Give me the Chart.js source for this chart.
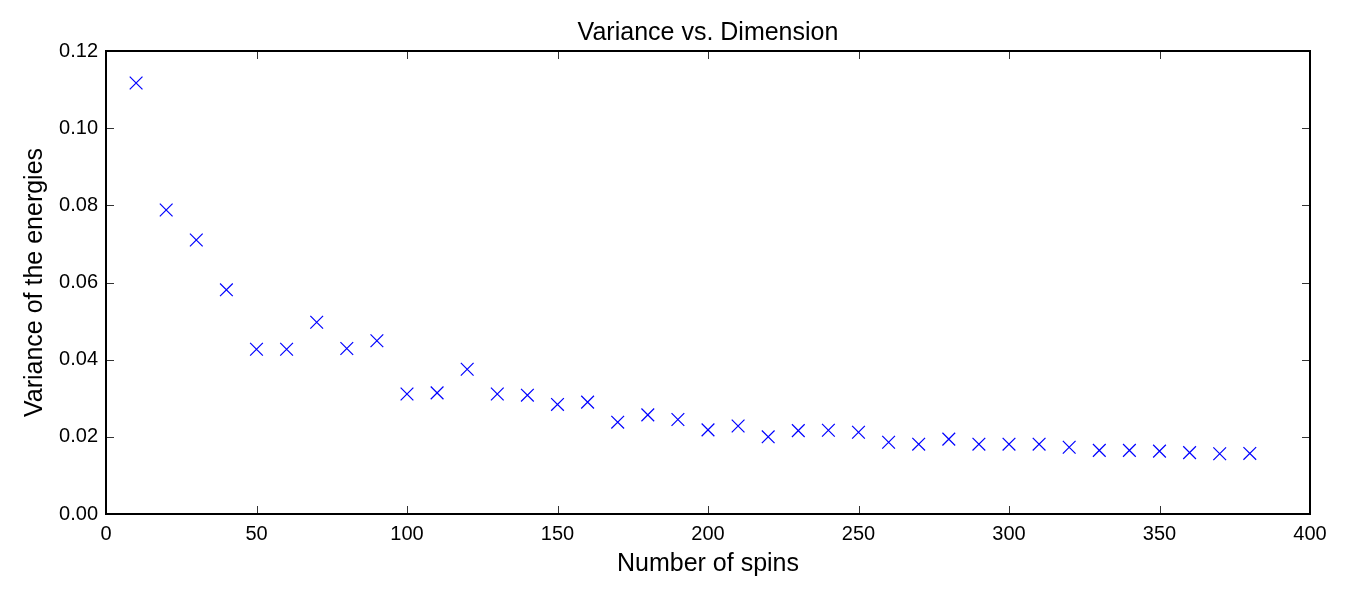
<!DOCTYPE html>
<html lang="en">
<head>
    <meta charset="UTF-8">
    <title>Variance vs. Dimension</title>
    <script src="https://cdn.jsdelivr.net/npm/chart.js@4.4.3/dist/chart.umd.min.js"></script>
    <style>
        body { margin: 0; background: #fff; }
        #wrap { width: 1350px; height: 600px; }
    </style>
</head>
<body>
    <div id="wrap"><canvas id="varianceChart"></canvas></div>
    <script>
        // Datos
        const spins = [10, 20, 30, 40, 50, 60, 70, 80, 90, 100, 110, 120, 130, 140, 150, 160, 170, 180, 190,
                       200, 210, 220, 230, 240, 250, 260, 270, 280, 290, 300, 310, 320, 330, 340, 350, 360, 370, 380];
        const variance = [0.1117, 0.0788, 0.0710, 0.0581, 0.0427, 0.0427, 0.0497, 0.0429, 0.0449, 0.0311,
                          0.0314, 0.0375, 0.0311, 0.0308, 0.0284, 0.0290, 0.0238, 0.0257, 0.0245,
                          0.0218, 0.0228, 0.0200, 0.0216, 0.0217, 0.0212, 0.0186, 0.0181, 0.0194, 0.0181,
                          0.0181, 0.0181, 0.0173, 0.0165, 0.0165, 0.0163, 0.0159, 0.0156, 0.0157];
        const xTicks = [0, 50, 100, 150, 200, 250, 300, 350, 400];
        const yTicks = [0.00, 0.02, 0.04, 0.06, 0.08, 0.10, 0.12];

        const FONT = "'Liberation Sans', Arial, Helvetica, sans-serif";

        // Marco y marcas hacia dentro, estilo matplotlib clásico
        const boxTicks = {
            id: 'boxTicks',
            afterDraw(chart) {
                const { ctx, chartArea: a, scales: { x, y } } = chart;
                const len = 8;
                ctx.save();
                ctx.strokeStyle = '#333';
                ctx.lineWidth = 1;
                ctx.beginPath();
                xTicks.forEach(v => {
                    const px = Math.round(x.getPixelForValue(v)) + 0.5;
                    ctx.moveTo(px, a.bottom); ctx.lineTo(px, a.bottom - len);
                    ctx.moveTo(px, a.top); ctx.lineTo(px, a.top + len);
                });
                yTicks.forEach(v => {
                    const py = Math.round(y.getPixelForValue(v)) + 0.5;
                    ctx.moveTo(a.left, py); ctx.lineTo(a.left + len, py);
                    ctx.moveTo(a.right, py); ctx.lineTo(a.right - len, py);
                });
                ctx.stroke();
                ctx.strokeStyle = '#000';
                ctx.lineWidth = 2;
                ctx.strokeRect(a.left, a.top, a.right - a.left, a.bottom - a.top);
                ctx.restore();
            }
        };

        new Chart(document.getElementById('varianceChart'), {
            type: 'scatter',
            data: {
                datasets: [{
                    label: 'Variance',
                    data: spins.map((s, i) => ({ x: s, y: variance[i] })),
                    pointStyle: 'crossRot',
                    pointRadius: 9,
                    pointHoverRadius: 9,
                    borderColor: '#0000ff',
                    backgroundColor: '#0000ff',
                    borderWidth: 1.2
                }]
            },
            options: {
                responsive: true,
                maintainAspectRatio: false,
                animation: false,
                layout: { padding: { left: 0, right: 40, top: 0, bottom: 0 } },
                plugins: {
                    legend: { display: false },
                    tooltip: { enabled: false },
                    title: {
                        display: true,
                        fullSize: false,
                        text: 'Variance vs. Dimension',
                        color: '#000',
                        font: { family: FONT, size: 25, weight: 'normal' },
                        padding: { top: 18, bottom: 3 }
                    }
                },
                scales: {
                    x: {
                        type: 'linear',
                        min: 0,
                        max: 400,
                        afterFit: s => { s.height = 86; },
                        afterBuildTicks: s => { s.ticks = xTicks.map(v => ({ value: v })); },
                        grid: { display: false, drawTicks: false },
                        border: { display: false },
                        ticks: {
                            color: '#000',
                            padding: 8,
                            maxRotation: 0,
                            font: { family: FONT, size: 20 },
                            callback: v => String(v)
                        },
                        title: {
                            display: true,
                            text: 'Number of spins',
                            color: '#000',
                            font: { family: FONT, size: 25 },
                            padding: { top: 0, bottom: 21 }
                        }
                    },
                    y: {
                        type: 'linear',
                        min: 0,
                        max: 0.12,
                        afterFit: s => { s.width = 106; },
                        afterBuildTicks: s => { s.ticks = yTicks.map(v => ({ value: v })); },
                        grid: { display: false, drawTicks: false },
                        border: { display: false },
                        ticks: {
                            color: '#000',
                            padding: 8,
                            font: { family: FONT, size: 20 },
                            callback: v => Number(v).toFixed(2)
                        },
                        title: {
                            display: true,
                            text: 'Variance of the energies',
                            color: '#000',
                            font: { family: FONT, size: 25 },
                            padding: { top: 20, bottom: 0 }
                        }
                    }
                }
            },
            plugins: [boxTicks]
        });
    </script>
</body>
</html>
